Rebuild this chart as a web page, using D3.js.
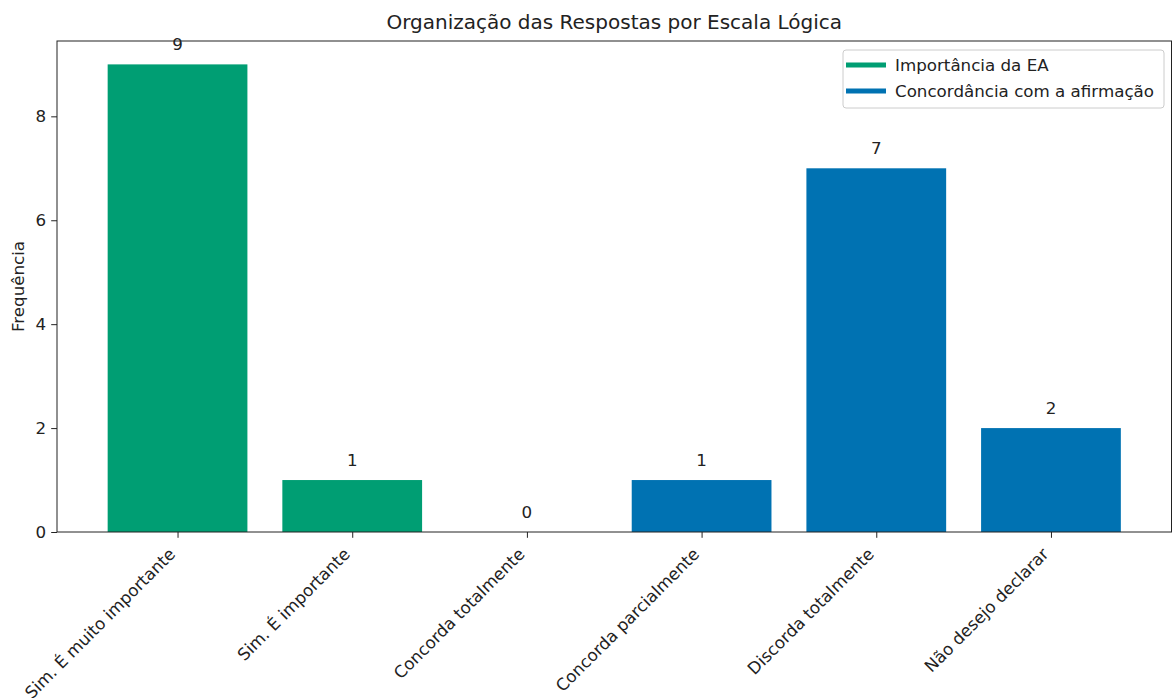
<!DOCTYPE html>
<html>
<head>
<meta charset="utf-8">
<script src="https://cdn.jsdelivr.net/npm/d3@7"></script>
<style>
  body { margin: 0; background: #fff; }
  text { font-family: "DejaVu Sans", sans-serif; fill: #222; }
</style>
</head>
<body>
<svg id="chart" width="1172" height="698"></svg>
<script>
// Response categories and counts
const categories = [
  "Sim. É muito importante",
  "Sim. É importante",
  "Concorda totalmente",
  "Concorda parcialmente",
  "Discorda totalmente",
  "Não desejo declarar"
];
const counts = [9, 1, 0, 1, 7, 2];
const groups = ["ea", "ea", "conc", "conc", "conc", "conc"];

const legendLabels = ["Importância da EA", "Concordância com a afirmação"];
const groupKeys = ["ea", "conc"];
const groupColors = ["#009E73", "#0072B2"];
const yTicks = [0, 2, 4, 6, 8];

const FS = 16.7;   // tick / legend / annotation text size
const svg = d3.select("#chart");
const margin = { left: 57, right: 0.5, top: 41, bottom: 166 };
const W = 1172, H = 698;
const plotW = W - margin.left - margin.right;
const plotH = H - margin.top - margin.bottom;

const color = d3.scaleOrdinal().domain(groupKeys).range(groupColors);

// linear x positions so the padding around bars follows the index spacing
const n = categories.length;
const barW = 0.8;
const pad = 0.05 * (n - 1 + barW);
const x = d3.scaleLinear()
  .domain([-barW / 2 - pad, n - 1 + barW / 2 + pad])
  .range([margin.left, margin.left + plotW]);

const yMax = d3.max(counts) * 1.05;
const y = d3.scaleLinear().domain([0, yMax]).range([margin.top + plotH, margin.top]);

const g = svg.append("g");

// bars
g.selectAll("rect.bar")
  .data(counts)
  .join("rect")
  .attr("class", "bar")
  .attr("x", (d, i) => x(i - barW / 2))
  .attr("width", x(barW) - x(0))
  .attr("y", d => y(d))
  .attr("height", d => y(0) - y(d))
  .attr("fill", (d, i) => color(groups[i]));

// value labels above each bar
g.selectAll("text.val")
  .data(counts)
  .join("text")
  .attr("class", "val")
  .attr("x", (d, i) => x(i))
  .attr("y", d => y(d) - 14)
  .attr("text-anchor", "middle")
  .attr("font-size", FS)
  .text(d => d);

// y axis
const yAxis = d3.axisLeft(y).tickValues(yTicks).tickSize(5.8).tickPadding(5);
const yg = svg.append("g").attr("transform", `translate(${margin.left},0)`).call(yAxis);
yg.select(".domain").remove();
yg.selectAll("text").attr("font-size", FS).style("font-family", "DejaVu Sans").attr("fill", "#222");
yg.selectAll("line").attr("stroke", "#222");

// x axis with labels rotated 45°, right-aligned under their ticks
const xAxis = d3.axisBottom(x).tickValues(d3.range(n)).tickSize(5.8).tickFormat(i => categories[i]);
const xg = svg.append("g").attr("transform", `translate(0,${margin.top + plotH})`).call(xAxis);
xg.select(".domain").remove();
xg.selectAll("line").attr("stroke", "#222");
xg.selectAll("text")
  .attr("font-size", FS)
  .style("font-family", "DejaVu Sans")
  .attr("fill", "#222")
  .attr("text-anchor", "end")
  .attr("dy", null)
  .attr("y", 0)
  .attr("transform", "translate(-6,19) rotate(-45)")
  .attr("dominant-baseline", "central");

// frame
svg.append("rect")
  .attr("x", margin.left).attr("y", margin.top)
  .attr("width", plotW).attr("height", plotH)
  .attr("fill", "none").attr("stroke", "#222").attr("stroke-width", 1);

// title and axis label
svg.append("text")
  .attr("x", margin.left + plotW / 2).attr("y", 29)
  .attr("text-anchor", "middle").attr("font-size", 20)
  .text("Organização das Respostas por Escala Lógica");

svg.append("text")
  .attr("transform", `translate(24,${margin.top + plotH / 2}) rotate(-90)`)
  .attr("text-anchor", "middle").attr("font-size", FS)
  .text("Frequência");

// legend
const lg = svg.append("g").attr("transform", "translate(843,50)");
lg.append("rect").attr("width", 321).attr("height", 58).attr("rx", 3)
  .attr("fill", "#fff").attr("fill-opacity", 0.8).attr("stroke", "#ccc");
legendLabels.forEach((lab, i) => {
  const yy = 15 + i * 26;
  lg.append("line").attr("x1", 3).attr("x2", 43).attr("y1", yy).attr("y2", yy)
    .attr("stroke", groupColors[i]).attr("stroke-width", 5);
  lg.append("text").attr("x", 52).attr("y", yy).attr("dominant-baseline", "central")
    .attr("font-size", FS).text(lab);
});
</script>
</body>
</html>
